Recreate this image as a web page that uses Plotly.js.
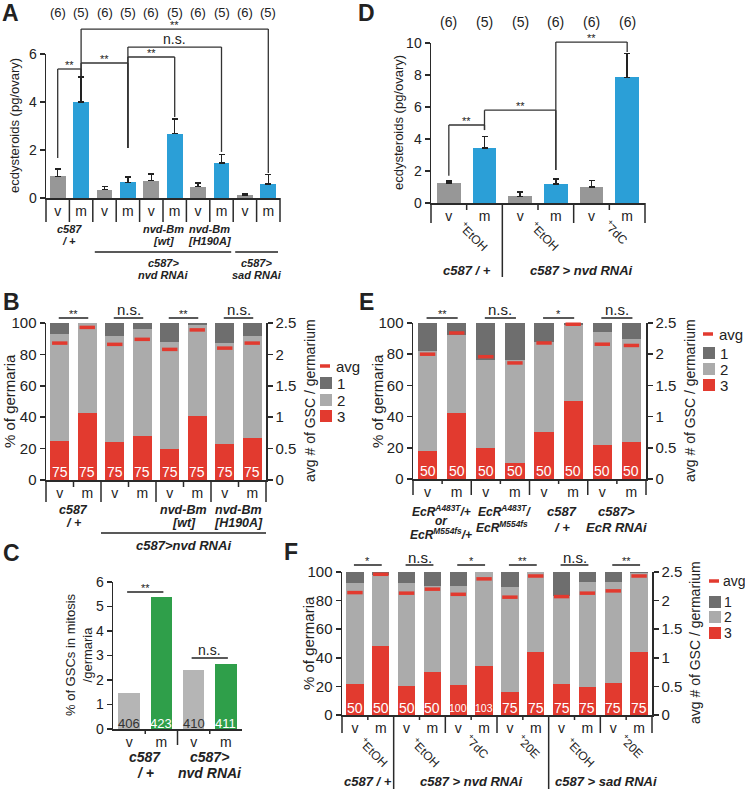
<!DOCTYPE html>
<html><head><meta charset="utf-8">
<script src="https://cdn.plot.ly/plotly-3.0.1.min.js"></script>
<style>body{margin:0;padding:0;background:#fff}#chart{width:745px;height:789px}</style>
</head><body><div id="chart"></div>
<script>
// ================= DATA =================
// Panel A: ecdysteroids (pg/ovary)
const aCats = ['v','m','v','m','v','m','v','m','v','m'];
const aValues = [0.9, 4.0, 0.35, 0.65, 0.72, 2.68, 0.47, 1.45, 0.12, 0.58];
const aErrTop = [1.2, 5.05, 0.47, 0.88, 1.0, 3.3, 0.62, 1.82, 0.17, 0.97];
const aN = ['(6)','(5)','(6)','(5)','(6)','(5)','(6)','(5)','(6)','(5)'];
const aSigPairs = [[0,1],[1,3],[3,5],[3,7],[1,9]];
const aSigText = ['**','**','**','n.s.','**'];

// Panel D: ecdysteroids (pg/ovary)
const dCats = ['v','m','v','m','v','m'];
const dValues = [1.25, 3.45, 0.42, 1.2, 1.0, 7.85];
const dErrTop = [1.37, 4.15, 0.68, 1.5, 1.4, 9.35];
const dN = ['(6)','(5)','(5)','(6)','(6)','(6)'];
const dTreat = ['+EtOH','+EtOH','+7dC'];
const dSigPairs = [[0,1],[1,3],[3,5]];
const dSigText = ['**','**','**'];

// Panel B: % of germaria with 1/2/3 GSCs, avg # GSC
const bCats = ['v','m','v','m','v','m','v','m'];
const bThree = [25, 42.5, 24, 28, 20, 41, 23, 26.5];
const bTwo   = [68, 57.5, 68, 68, 68, 58, 64, 65.5];
const bOne   = [7, 0, 8, 4, 12, 1, 13, 8];
const bAvg   = [2.18, 2.43, 2.16, 2.24, 2.08, 2.39, 2.10, 2.18];
const bN     = ['75','75','75','75','75','75','75','75'];
const bSig   = ['**','n.s.','**','n.s.'];

// Panel E
const eCats = ['v','m','v','m','v','m','v','m'];
const eThree = [18, 42, 20, 10, 30, 50, 22, 24];
const eTwo   = [64, 50, 56, 66, 58, 48.5, 72, 66];
const eOne   = [18, 8, 24, 24, 12, 1.5, 6, 10];
const eAvg   = [2.0, 2.34, 1.96, 1.86, 2.18, 2.48, 2.16, 2.14];
const eN     = ['50','50','50','50','50','50','50','50'];
const eSig   = ['**','n.s.','*','n.s.'];

// Panel C: % of GSCs in mitosis / germaria
const cCats = ['v','m','v','m'];
const cValues = [1.45, 5.4, 2.4, 2.65];
const cN = ['406','423','410','411'];
const cSig = ['**','n.s.'];

// Panel F
const fCats = ['v','m','v','m','v','m','v','m','v','m','v','m'];
const fThree = [22, 48, 20, 30, 21, 34, 16, 44, 21.5, 19.5, 22.5, 44];
const fTwo   = [70, 50, 72, 60, 69, 66, 73.5, 56, 61.5, 73.5, 70.5, 55];
const fOne   = [8, 2, 8, 10, 10, 0, 10.5, 0, 17, 7, 7, 1];
const fAvg   = [2.14, 2.46, 2.13, 2.2, 2.11, 2.38, 2.06, 2.43, 2.07, 2.13, 2.17, 2.43];
const fN     = ['50','50','50','50','100','103','75','75','75','75','75','75'];
const fTreat = ['+EtOH','+EtOH','+7dC','+20E','+EtOH','+20E'];
const fSig   = ['*','n.s.','*','**','n.s.','**'];

// ================= LAYOUT GEOMETRY =================
const W = 745, H = 789;
const FONT = 'Liberation Sans, Arial, sans-serif';
const TXT = '#222';
const COL = {gray:'#979797', blue:'#2b9fd7', red:'#e23a2f', lgray:'#ababab', dgray:'#6e6e6e', cgray:'#b5b5b5', green:'#2f9f4a'};
const G = {
  A:{x0:46,x1:280,yb:198,yt:54,n:10,yr:[0,6]},
  D:{x0:431,x1:645,yb:203,yt:43,n:6,yr:[0,10]},
  B:{x0:46,x1:266,yb:480,yt:323,n:8,yr:[0,100]},
  E:{x0:413,x1:646,yb:479,yt:323,n:8,yr:[0,100]},
  C:{x0:113,x1:242,yb:729,yt:582,n:4,yr:[0,6]},
  F:{x0:342,x1:652,yb:715,yt:572,n:12,yr:[0,100]}
};
function px(g,v){return g.x0+(v+0.5)/g.n*(g.x1-g.x0);}
function py(g,v){return g.yb-(v-g.yr[0])/(g.yr[1]-g.yr[0])*(g.yb-g.yt);}
const PX = p => p/W, PY = p => 1-p/H;
const idx = n => Array.from({length:n},(_, i)=>i);

const shapes = [], anns = [];
function line(x0,y0,x1,y1,w,c){shapes.push({type:'line',xref:'paper',yref:'paper',x0:PX(x0),y0:PY(y0),x1:PX(x1),y1:PY(y1),line:{color:c||'#333',width:w||1.3}});}
function rect(x0,y0,x1,y1,c){shapes.push({type:'rect',xref:'paper',yref:'paper',x0:PX(x0),y0:PY(y0),x1:PX(x1),y1:PY(y1),line:{width:0},fillcolor:c});}
function text(x,y,t,size,o){o=o||{};anns.push({xref:'paper',yref:'paper',x:PX(x),y:PY(y),text:t,showarrow:false,
  xanchor:o.xanchor||'center',yanchor:o.yanchor||'middle',textangle:o.angle||0,
  font:{family:FONT,size:size,color:o.color||TXT}});}

function xax(g,anchor,cats){return {domain:[g.x0/W,g.x1/W],range:[-0.5,g.n-0.5],anchor:anchor,showline:true,linecolor:'#2a2a2a',linewidth:1.5,
  ticks:'',tickvals:idx(cats.length),ticktext:cats,tickfont:{family:FONT,size:14,color:TXT},showgrid:false,zeroline:false,fixedrange:true};}
function yax(g,anchor,range,dtick,size,extra){return Object.assign({domain:[1-g.yb/H,1-g.yt/H],range:range,anchor:anchor,showline:true,linecolor:'#2a2a2a',linewidth:1.5,
  ticks:'outside',ticklen:5,tickwidth:1.5,tickcolor:'#2a2a2a',dtick:dtick,tick0:0,tickfont:{family:FONT,size:size,color:TXT},showgrid:false,zeroline:false,fixedrange:true},extra||{});}

function dividers(g,lens){lens.forEach((L,k)=>{if(L>0){const x=g.x0+k/g.n*(g.x1-g.x0);line(x,g.yb,x,g.yb+L,1.5,'#2a2a2a');}});}

// ---------- traces ----------
const traces = [];
function simpleBars(cats,vals,err,xa,ya,cv,cm,wid){
  const t={type:'bar',x:idx(vals.length),y:vals,xaxis:xa,yaxis:ya,width:wid,
    marker:{color:cats.map(c=>c==='v'?cv:cm),line:{width:0}},showlegend:false,hoverinfo:'skip'};
  if(err){t.error_y={type:'data',symmetric:false,array:err.map((e,i)=>e-vals[i]),arrayminus:vals.map(()=>0),color:'#222',thickness:1.5,width:3};}
  traces.push(t);
}
function stackBars(three,two,one,avg,xa,ya,ya2,wid){
  [[three,COL.red],[two,COL.lgray],[one,COL.dgray]].forEach(([v,c])=>{
    traces.push({type:'bar',x:idx(v.length),y:v,xaxis:xa,yaxis:ya,width:wid,marker:{color:c,line:{width:0}},showlegend:false,hoverinfo:'skip'});
  });
  traces.push({type:'scatter',mode:'markers',x:idx(avg.length),y:avg,xaxis:xa,yaxis:ya2,cliponaxis:false,showlegend:false,hoverinfo:'skip',
    marker:{symbol:'line-ew',size:11,line:{width:3.5,color:COL.red}}});
}
simpleBars(aCats,aValues,aErrTop,'x','y',COL.gray,COL.blue,0.68);
simpleBars(dCats,dValues,dErrTop,'x2','y2',COL.gray,COL.blue,0.67);
stackBars(bThree,bTwo,bOne,bAvg,'x3','y3','y4',0.7);
stackBars(eThree,eTwo,eOne,eAvg,'x4','y5','y6',0.66);
simpleBars(cCats,cValues,null,'x5','y7',COL.cgray,COL.green,0.66);
stackBars(fThree,fTwo,fOne,fAvg,'x6','y8','y9',0.67);

// ---------- panel letters ----------
[['A',10,13],['B',11,302],['C',11,553],['D',366,13],['E',366,302],['F',291,552]].forEach(([t,x,y])=>text(x,y,'<b>'+t+'</b>',23));

const BI=s=>'<b><i>'+s+'</i></b>';
const rot=t=>'<sup>+</sup>'+t.slice(1);

// ---------- Panel A ----------
(function(){const g=G.A;
  aN.forEach((t,i)=>text(px(g,i),13,t,13));
  text(14,126,'ecdysteroids (pg/ovary)',13,{angle:-90});
  dividers(g,idx(11).map(()=>24));
  const tops=[5.375,5.625,5.875,6.29,7.04], legL=[1.67,5.08,2.08,2.08,5.08], legR=[5.08,2.08,3.375,1.92,1.04];
  aSigPairs.forEach(([a,b],k)=>{const xa=px(g,a),xb=px(g,b),yt=py(g,tops[k]);
    line(xa,py(g,legL[k]),xa,yt);line(xa,yt,xb,yt);line(xb,yt,xb,py(g,legR[k]));
    const ns=aSigText[k]==='n.s.';text((xa+xb)/2,yt-(ns?8:4),aSigText[k],ns?14:11);});
  [[['c587','/ +'],0,1],[['nvd-Bm','[wt]'],4,5],[['nvd-Bm','[H190A]'],6,7]].forEach(([ls,a,b])=>{
    const x=(px(g,a)+px(g,b))/2; text(x,229,BI(ls[0]),11); text(x,241,BI(ls[1]),11);});
  [[['c587>','nvd RNAi'],2,7],[['c587>','sad RNAi'],8,9]].forEach(([ls,a,b])=>{
    const x0=g.x0+a/g.n*(g.x1-g.x0)+2,x1=g.x0+(b+1)/g.n*(g.x1-g.x0)-2;
    line(x0,252,x1,252,1.5,'#222'); text((x0+x1)/2,263,BI(ls[0]),11); text((x0+x1)/2,275,BI(ls[1]),11);});
})();

// ---------- Panel D ----------
(function(){const g=G.D;
  dN.forEach((t,i)=>text(px(g,i),22,t,14));
  text(398,123,'ecdysteroids (pg/ovary)',13,{angle:-90});
  dividers(g,[20,7,74,7,20,7,20]);
  const tops=[4.875,5.8,10.06], legL=[1.7,4.56,2.06], legR=[4.56,2.06,9.44];
  dSigPairs.forEach(([a,b],k)=>{const xa=px(g,a),xb=px(g,b),yt=py(g,tops[k]);
    line(xa,py(g,legL[k]),xa,yt);line(xa,yt,xb,yt);line(xb,yt,xb,py(g,legR[k]));
    text((xa+xb)/2,yt-4,dSigText[k],11);});
  dTreat.forEach((t,k)=>{const x=(px(g,2*k)+px(g,2*k+1))/2; text(x+7,g.yb+(t.length>4?33:29),rot(t),12,{angle:45});});
  [['c587 / +',0,1],['c587 > nvd RNAi',2,5]].forEach(([t,a,b])=>text((px(g,a)+px(g,b))/2+(a?8:0),270,BI(t),13));
})();

// ---------- stacked panels common ----------
function stackDecor(g,ns,sig,sigY,labY,nSize){
  ns.forEach((t,i)=>text(px(g,i),g.yb+labY,t,t.length>2?10.5:nSize,{color:'#fff'}));
  sig.forEach((s,k)=>{const xa=px(g,2*k),xb=px(g,2*k+1);line(xa-1,sigY,xb+1,sigY,1.5,'#222');
    text((xa+xb)/2,sigY-(s==='n.s.'?8:4),s,s==='n.s.'?15:11);});
}
function legend(x,yAvg,ys,size,gap){
  line(x,yAvg,x+10,yAvg,3.5,COL.red); text(x+gap,yAvg,'avg',size,{xanchor:'left'});
  [['1',COL.dgray],['2',COL.lgray],['3',COL.red]].forEach(([t,c],k)=>{rect(x,ys[k]-6,x+12,ys[k]+6,c);text(x+gap+1,ys[k],t,size,{xanchor:'left'});});
}

// ---------- Panel B ----------
(function(){const g=G.B;
  stackDecor(g,bN,bSig,318,-8,14);
  text(9,401,'% of germaria',15,{angle:-90});
  text(310,401,'avg # of GSC / germarium',14,{angle:-90});
  legend(320,366,[383,400,416],15,14);
  dividers(g,[22,7,22,7,22,7,22,7,22]);
  [[['c587','/ +'],0,1],[['nvd-Bm','[wt]'],4,5],[['nvd-Bm','[H190A]'],6,7]].forEach(([ls,a,b])=>{
    const x=(px(g,a)+px(g,b))/2; text(x,510,BI(ls[0]),12.5); text(x,523,BI(ls[1]),12.5);});
  const x0=g.x0+2/g.n*(g.x1-g.x0), x1=g.x1;
  line(x0,533,x1,533,1.5,'#222'); text((x0+x1)/2,545,BI('c587>nvd RNAi'),13);
})();

// ---------- Panel E ----------
(function(){const g=G.E;
  stackDecor(g,eN,eSig,318,-8,14);
  text(377,401,'% of germaria',15,{angle:-90});
  text(690,401,'avg # of GSC / germarium',14,{angle:-90});
  legend(703,334,[353,369,385],15,14);
  dividers(g,[16,5,16,5,16,5,16,5,16]);
  const cx=k=>(px(g,2*k)+px(g,2*k+1))/2;
  text(cx(0)-1,511,BI('EcR<sup>A483T</sup>/+'),12);
  text(cx(0)-1,521,BI('or'),12);
  text(cx(0)-1,534,BI('EcR<sup>M554fs</sup>/+'),12);
  text(cx(1)+4,511,BI('EcR<sup>A483T</sup>/'),12);
  text(cx(1)+2,527,BI('EcR<sup>M554fs</sup>'),12);
  text(cx(2)+3,512,BI('c587'),13); text(cx(2)+3,527,BI('/ +'),13);
  text(cx(3),512,BI('c587>'),13); text(cx(3),527,BI('EcR RNAi'),13);
})();

// ---------- Panel C ----------
(function(){const g=G.C;
  cN.forEach((t,i)=>text(px(g,i),g.yb-6,t,13,{color:cCats[i]==='m'?'#fff':'#333'}));
  text(79,655,'% of GSCs in mitosis<br>/germaria',13,{angle:-90});
  dividers(g,[0,5,16,5,0]);
  const sy=[592,658];
  cSig.forEach((s,k)=>{const xa=px(g,2*k),xb=px(g,2*k+1);line(xa-2,sy[k],xb+2,sy[k],1.5,'#222');
    text((xa+xb)/2,sy[k]-(s==='n.s.'?8:4),s,s==='n.s.'?14:11);});
  [[['c587','/ +'],0,1],[['c587>','nvd RNAi'],2,3]].forEach(([ls,a,b])=>{
    const x=(px(g,a)+px(g,b))/2; text(x,757,BI(ls[0]),14); text(x,773,BI(ls[1]),14);});
})();

// ---------- Panel F ----------
(function(){const g=G.F;
  stackDecor(g,fN,fSig,565,-7,14);
  text(308,643,'% of germaria',15,{angle:-90});
  text(695,643,'avg # of GSC / germarium',14,{angle:-90});
  legend(709,581,[602,617,633],14,12);
  dividers(g,[18,5,74,5,18,5,18,5,74,5,18,5,18]);
  fTreat.forEach((t,k)=>{const x=(px(g,2*k)+px(g,2*k+1))/2; text(x+6,g.yb+(t.length>4?37:31),rot(t),12,{angle:45});});
  [['c587 / +',0,1],['c587 > nvd RNAi',2,7],['c587 > sad RNAi',8,11]].forEach(([t,a,b])=>text((px(g,a)+px(g,b))/2+(a===8?6:0),781,BI(t),13));
})();

// ---------- layout ----------
const layout = {
  width:W,height:H,margin:{l:0,r:0,t:0,b:0},paper_bgcolor:'#fff',plot_bgcolor:'rgba(0,0,0,0)',
  barmode:'stack',showlegend:false,font:{family:FONT,color:TXT},
  xaxis:xax(G.A,'y',aCats), yaxis:yax(G.A,'x',[0,6],2,14),
  xaxis2:xax(G.D,'y2',dCats), yaxis2:yax(G.D,'x2',[0,10],2,14),
  xaxis3:xax(G.B,'y3',bCats), yaxis3:yax(G.B,'x3',[0,100],20,15),
  yaxis4:yax(G.B,'x3',[0,2.5],0.5,15,{overlaying:'y3',side:'right'}),
  xaxis4:xax(G.E,'y5',eCats), yaxis5:yax(G.E,'x4',[0,100],20,15),
  yaxis6:yax(G.E,'x4',[0,2.5],0.5,15,{overlaying:'y5',side:'right'}),
  xaxis5:xax(G.C,'y7',cCats), yaxis7:yax(G.C,'x5',[0,6],1,14),
  xaxis6:xax(G.F,'y8',fCats), yaxis8:yax(G.F,'x6',[0,100],20,15),
  yaxis9:yax(G.F,'x6',[0,2.5],0.5,15,{overlaying:'y8',side:'right'}),
  shapes:shapes, annotations:anns
};
Plotly.newPlot('chart',traces,layout,{staticPlot:true,displayModeBar:false});
</script></body></html>
